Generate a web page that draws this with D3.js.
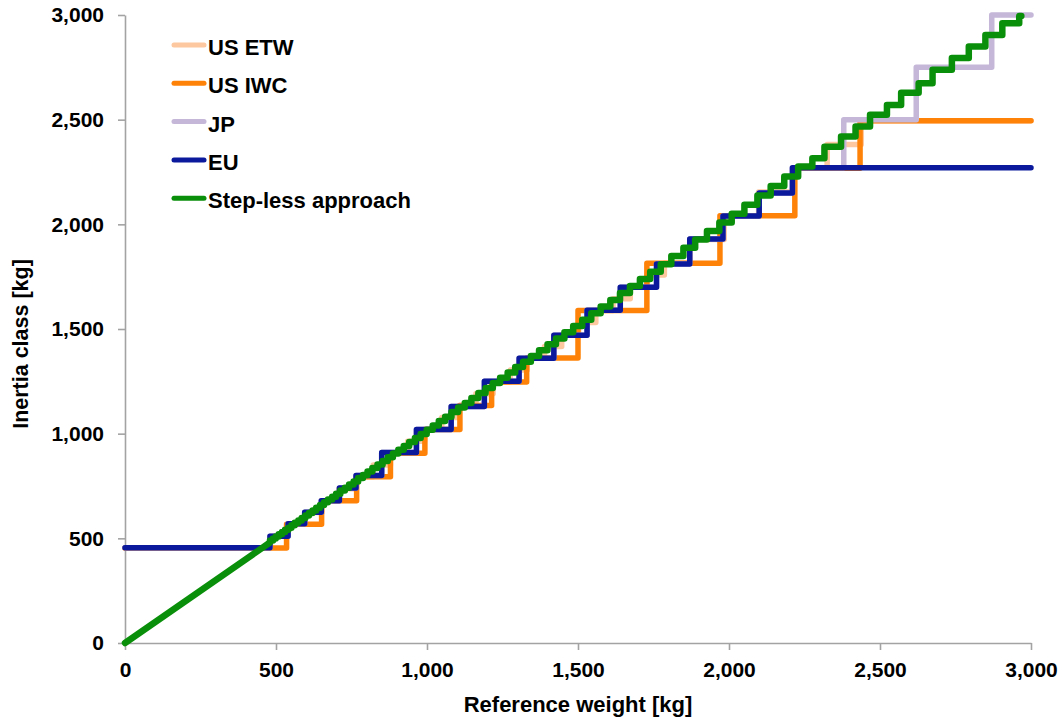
<!DOCTYPE html>
<html>
<head>
<meta charset="utf-8">
<script src="https://cdn.jsdelivr.net/npm/d3@7"></script>
<style>
body { margin: 0; background: #fff; }
text { font-family: "Liberation Sans", Arial, Helvetica, sans-serif; font-weight: bold; fill: #000; }
</style>
</head>
<body>
<svg id="chart" width="1062" height="719"></svg>
<script>
var tickValues = [0, 500, 1000, 1500, 2000, 2500, 3000];

// reference weight [kg] from which a class applies, and the class [kg]
var etwFrom = [0, 482, 539, 595, 652, 709, 765, 822, 879, 936, 992, 1049, 1106, 1162, 1219, 1276, 1332, 1389, 1446, 1502, 1559, 1616, 1673, 1729, 1786, 1871, 1984, 2098, 2211, 2325, 2438];
var etwClass = [454, 510, 567, 624, 680, 737, 794, 850, 907, 964, 1021, 1077, 1134, 1191, 1247, 1304, 1361, 1417, 1474, 1531, 1588, 1644, 1701, 1758, 1814, 1928, 2041, 2155, 2268, 2381, 2495];

var iwcFrom = [0, 535, 651, 767, 879, 993, 1109, 1214, 1330, 1500, 1728, 1970, 2218, 2434];
var iwcClass = [454, 567, 680, 794, 907, 1020, 1134, 1247, 1361, 1588, 1814, 2041, 2268, 2495];

var jpFrom = [0, 480, 540, 595, 650, 710, 765, 850, 965, 1080, 1190, 1305, 1420, 1530, 1640, 1760, 1870, 1980, 2100, 2210, 2380, 2620, 2870];
var jpClass = [455, 510, 570, 625, 680, 740, 800, 910, 1020, 1130, 1250, 1360, 1470, 1590, 1700, 1810, 1930, 2040, 2150, 2270, 2500, 2750, 3000];

var euFrom = [0, 480, 540, 595, 650, 710, 765, 850, 965, 1080, 1190, 1305, 1420, 1530, 1640, 1760, 1870, 1980, 2100, 2210];
var euClass = [455, 510, 570, 625, 680, 740, 800, 910, 1020, 1130, 1250, 1360, 1470, 1590, 1700, 1810, 1930, 2040, 2150, 2270];

// step-less approach: straight up to 480 kg, then fine steps
var greenStart = 480;
var greenClass = [490, 499, 509, 520, 530, 541, 551, 562, 574, 585, 597, 609, 621, 633, 646, 659, 672, 686, 699, 713, 728, 742, 757, 772, 788, 803, 819, 836, 853, 870, 887, 905, 923, 941, 960, 979, 999, 1019, 1039, 1060, 1081, 1103, 1125, 1147, 1170, 1194, 1218, 1242, 1267, 1292, 1318, 1344, 1371, 1399, 1427, 1455, 1484, 1514, 1544, 1575, 1607, 1639, 1672, 1705, 1739, 1774, 1809, 1849, 1888, 1927, 1968, 2009, 2051, 2094, 2138, 2183, 2229, 2276, 2316, 2371, 2419, 2467, 2523, 2570, 2628, 2674, 2738, 2794, 2849, 2905, 2961, 2995];
var greenEnd = 2968;

var seriesNames = ['US ETW', 'US IWC', 'JP', 'EU', 'Step-less approach'];
var seriesColors = ['#fdc89f', '#fe8208', '#c4b7d8', '#0b1a9c', '#0a8f0a'];

var svg = d3.select('#chart');

var x = d3.scaleLinear().domain([0, 3000]).range([125, 1031]);
var y = d3.scaleLinear().domain([0, 3000]).range([643, 15]);

function stepPoints(from, cls) {
    var pts = from.map(function(f, i) { return [f, cls[i]]; });
    pts.push([3000, cls[cls.length - 1]]);
    return pts;
}

function greenPoints() {
    var pts = [[0, 0], [greenStart, greenStart]];
    var prev = greenStart;
    greenClass.forEach(function(c, i) {
        var end = (i == greenClass.length - 1) ? greenEnd : c;
        pts.push([prev, c]);
        pts.push([end, c]);
        prev = end;
    });
    return pts;
}

var stepLine = d3.line()
    .x(function(d) { return x(d[0]); })
    .y(function(d) { return y(d[1]); })
    .curve(d3.curveStepAfter);

var plainLine = d3.line()
    .x(function(d) { return x(d[0]); })
    .y(function(d) { return y(d[1]); });

// axes
var xAxis = svg.append('g')
    .attr('transform', 'translate(0,' + y(0) + ')')
    .call(d3.axisBottom(x).tickValues(tickValues).tickSize(7).tickSizeOuter(0).tickFormat(d3.format(',')));

var yAxis = svg.append('g')
    .attr('transform', 'translate(' + x(0) + ',0)')
    .call(d3.axisLeft(y).tickValues(tickValues).tickSize(7).tickSizeOuter(0).tickFormat(d3.format(',')));

svg.selectAll('.domain, .tick line')
    .attr('stroke', '#a3a3a3')
    .attr('stroke-width', 1.6);

xAxis.selectAll('.tick text')
    .attr('y', 19)
    .attr('dy', '0.71em')
    .style('font-size', '21px');

yAxis.selectAll('.tick text')
    .attr('x', -21)
    .attr('dy', '0.33em')
    .style('font-size', '21px');

svg.selectAll('.tick text').attr('fill', '#000').style('font-family', '"Liberation Sans", Arial, sans-serif');

svg.append('text')
    .attr('x', 578)
    .attr('y', 712)
    .attr('text-anchor', 'middle')
    .style('font-size', '22px')
    .text('Reference weight [kg]');

svg.append('text')
    .attr('transform', 'translate(28,344) rotate(-90)')
    .attr('text-anchor', 'middle')
    .style('font-size', '21.5px')
    .text('Inertia class [kg]');

// series
var lines = svg.append('g')
    .attr('fill', 'none')
    .attr('stroke-linejoin', 'round')
    .attr('stroke-linecap', 'round');

lines.append('path').attr('d', stepLine(stepPoints(etwFrom, etwClass)))
    .attr('stroke', seriesColors[0]).attr('stroke-width', 5.5);
lines.append('path').attr('d', stepLine(stepPoints(iwcFrom, iwcClass)))
    .attr('stroke', seriesColors[1]).attr('stroke-width', 5.5);
lines.append('path').attr('d', stepLine(stepPoints(jpFrom, jpClass)))
    .attr('stroke', seriesColors[2]).attr('stroke-width', 5.5);
lines.append('path').attr('d', stepLine(stepPoints(euFrom, euClass)))
    .attr('stroke', seriesColors[3]).attr('stroke-width', 5.5);
lines.append('path').attr('d', plainLine(greenPoints()))
    .attr('stroke', seriesColors[4]).attr('stroke-width', 6.5);

// legend
var legend = svg.append('g')
    .selectAll('g')
    .data(seriesNames)
    .enter()
    .append('g')
    .attr('transform', function(d, i) { return 'translate(0,' + (45 + i * 38.3) + ')'; });

legend.append('line')
    .attr('x1', 174).attr('x2', 204)
    .attr('y1', 0).attr('y2', 0)
    .attr('stroke', function(d, i) { return seriesColors[i]; })
    .attr('stroke-width', 5)
    .attr('stroke-linecap', 'round');

legend.append('text')
    .attr('x', 208)
    .attr('y', 10)
    .style('font-size', '22px')
    .text(function(d) { return d; });
</script>
</body>
</html>
